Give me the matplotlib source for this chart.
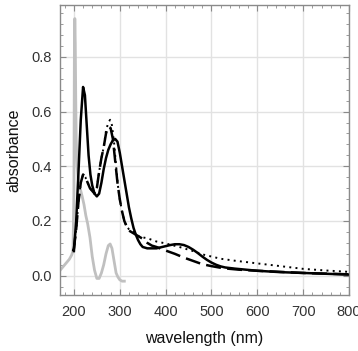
import matplotlib
matplotlib.use("Agg")
import matplotlib.pyplot as plt
from matplotlib.ticker import MultipleLocator

plt.rcParams['font.family'] = ['Liberation Sans', 'DejaVu Sans']

# gray reference spectrum
gray_wl = [170, 180, 190, 195, 198, 200, 201, 202, 203, 204, 205, 207, 209, 212, 215, 218, 222, 226, 230, 235, 240, 245, 250, 255, 260, 265, 270, 275, 279, 283, 288, 292, 296, 300, 305, 310]
gray_ab = [0.02, 0.04, 0.06, 0.075, 0.09, 0.30, 0.80, 0.94, 0.85, 0.65, 0.50, 0.40, 0.36, 0.33, 0.31, 0.29, 0.26, 0.22, 0.19, 0.14, 0.07, 0.02, -0.01, -0.01, 0.01, 0.04, 0.08, 0.11, 0.116, 0.10, 0.05, 0.01, -0.005, -0.015, -0.02, -0.02]

# solid curve
solid_wl = [200, 205, 210, 215, 220, 224, 228, 232, 236, 240, 245, 250, 255, 260, 265, 270, 275, 280, 285, 290, 295, 300, 305, 310, 315, 320, 325, 330, 335, 340, 345, 350, 360, 370, 380, 390, 400, 410, 420, 430, 440, 450, 460, 470, 480, 490, 500, 510, 520, 530, 550, 575, 600, 650, 700, 750, 800]
solid_ab = [0.09, 0.20, 0.38, 0.57, 0.69, 0.66, 0.55, 0.44, 0.37, 0.33, 0.30, 0.29, 0.30, 0.34, 0.39, 0.43, 0.46, 0.48, 0.495, 0.50, 0.49, 0.45, 0.40, 0.35, 0.30, 0.25, 0.21, 0.175, 0.15, 0.13, 0.115, 0.105, 0.10, 0.10, 0.10, 0.104, 0.108, 0.112, 0.115, 0.115, 0.112, 0.105, 0.095, 0.083, 0.07, 0.058, 0.048, 0.04, 0.034, 0.03, 0.026, 0.022, 0.018, 0.013, 0.01, 0.007, 0.004]

# dashed curve
dash_wl = [198, 200, 205, 210, 215, 220, 225, 230, 235, 240, 245, 250, 255, 260, 265, 270, 275, 280, 285, 290, 295, 300, 305, 310, 315, 320, 330, 340, 350, 360, 370, 380, 400, 420, 440, 460, 480, 500, 520, 540, 560, 600, 700, 800]
dash_ab = [0.09, 0.10, 0.17, 0.27, 0.34, 0.37, 0.36, 0.34, 0.32, 0.31, 0.30, 0.32, 0.38, 0.43, 0.47, 0.52, 0.545, 0.54, 0.50, 0.42, 0.34, 0.28, 0.235, 0.20, 0.18, 0.165, 0.155, 0.145, 0.135, 0.12, 0.11, 0.105, 0.092, 0.08, 0.066, 0.054, 0.042, 0.035, 0.029, 0.025, 0.022, 0.018, 0.010, 0.005]

# dotted curve
dot_wl = [198, 200, 205, 210, 215, 220, 225, 230, 235, 240, 245, 250, 255, 260, 265, 270, 275, 279, 283, 288, 292, 296, 300, 305, 310, 315, 320, 330, 340, 350, 360, 380, 400, 430, 460, 480, 500, 520, 550, 600, 650, 700, 750, 800]
dot_ab = [0.09, 0.10, 0.17, 0.27, 0.34, 0.37, 0.36, 0.34, 0.32, 0.31, 0.30, 0.32, 0.38, 0.43, 0.47, 0.53, 0.56, 0.57, 0.55, 0.48, 0.40, 0.33, 0.28, 0.235, 0.20, 0.18, 0.17, 0.16, 0.145, 0.14, 0.137, 0.125, 0.118, 0.105, 0.09, 0.078, 0.07, 0.062, 0.055, 0.045, 0.035, 0.025, 0.019, 0.014]

xticks = [200, 300, 400, 500, 600, 700, 800]
yticks = [0.0, 0.2, 0.4, 0.6, 0.8]

fig = plt.figure(figsize=(3.58, 3.51), dpi=100)
ax = fig.add_axes([0.168, 0.160, 0.807, 0.826])

ax.plot(gray_wl, gray_ab, color='#c0c0c0', lw=2.0, zorder=2)
ax.plot(solid_wl, solid_ab, color='black', lw=1.8, zorder=4)
ax.plot(dash_wl, dash_ab, color='black', lw=1.8, dashes=(6, 2.5), zorder=3)
ax.plot(dot_wl, dot_ab, color='black', lw=1.4, dashes=(1, 2.2), zorder=3)

ax.set_xlim(170, 800)
ax.set_ylim(-0.07, 0.99)
ax.set_xticks(xticks)
ax.set_yticks(yticks)
ax.set_yticklabels([f"{v:.1f}" for v in yticks])
ax.xaxis.set_minor_locator(MultipleLocator(20))
ax.yaxis.set_minor_locator(MultipleLocator(0.04))

ax.grid(True, which='major', color='#e2e2e2', lw=1.0, zorder=0)
ax.set_axisbelow(True)

for s in ax.spines.values():
    s.set_color('#8a8a8a')
    s.set_linewidth(1.0)

ax.tick_params(which='both', direction='in', top=True, right=True, colors='#8a8a8a',
               labelcolor='#333333', labelsize=10.5)
ax.tick_params(which='major', length=4, width=0.8)
ax.tick_params(which='minor', length=2.5, width=0.6)
ax.tick_params(axis='x', which='major', pad=7)
ax.tick_params(axis='y', which='major', pad=6)

ax.set_xlabel('wavelength (nm)', fontsize=11.5, color='#111111', labelpad=9)
ax.set_ylabel('absorbance', fontsize=11.5, color='#111111', labelpad=7)

fig.savefig('out.png', dpi=100)
